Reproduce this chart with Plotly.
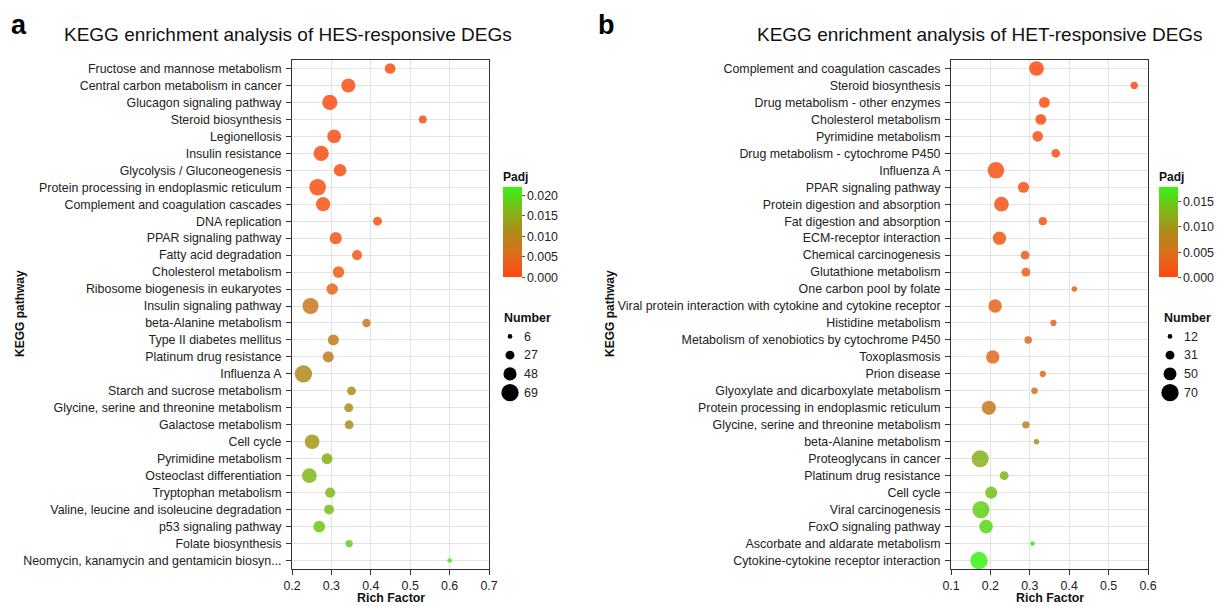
import plotly.graph_objects as go

# ---------------- Panel a: HES-responsive DEGs ----------------
a_pathways = [
    "Fructose and mannose metabolism", "Central carbon metabolism in cancer",
    "Glucagon signaling pathway", "Steroid biosynthesis", "Legionellosis",
    "Insulin resistance", "Glycolysis / Gluconeogenesis",
    "Protein processing in endoplasmic reticulum", "Complement and coagulation cascades",
    "DNA replication", "PPAR signaling pathway", "Fatty acid degradation",
    "Cholesterol metabolism", "Ribosome biogenesis in eukaryotes",
    "Insulin signaling pathway", "beta-Alanine metabolism", "Type II diabetes mellitus",
    "Platinum drug resistance", "Influenza A", "Starch and sucrose metabolism",
    "Glycine, serine and threonine metabolism", "Galactose metabolism", "Cell cycle",
    "Pyrimidine metabolism", "Osteoclast differentiation", "Tryptophan metabolism",
    "Valine, leucine and isoleucine degradation", "p53 signaling pathway",
    "Folate biosynthesis", "Neomycin, kanamycin and gentamicin biosyn...",
]
a_rich = [0.449, 0.343, 0.296, 0.532, 0.307, 0.274, 0.322, 0.265, 0.279, 0.417,
          0.311, 0.365, 0.318, 0.302, 0.247, 0.389, 0.305, 0.292, 0.229, 0.351,
          0.344, 0.345, 0.251, 0.289, 0.244, 0.297, 0.294, 0.269, 0.345, 0.600]
a_count = [36, 53, 59, 22, 51, 59, 45, 66, 54, 27,
           43, 33, 40, 40, 63, 24, 38, 38, 69, 27,
           27, 27, 56, 37, 56, 33, 32, 41, 19, 6]
a_padj = [0.0003, 0.0005, 0.0006, 0.0008, 0.0009, 0.0009, 0.0012, 0.0012, 0.0015, 0.0018,
          0.0022, 0.0025, 0.0030, 0.0045, 0.0075, 0.0078, 0.0085, 0.0088, 0.0105, 0.0112,
          0.0115, 0.0118, 0.0122, 0.0150, 0.0158, 0.0165, 0.0168, 0.0175, 0.0190, 0.0219]
a_size_breaks = [6, 27, 48, 69]
a_padj_ticks = [0.000, 0.005, 0.010, 0.015, 0.020]
a_x_ticks = [0.2, 0.3, 0.4, 0.5, 0.6, 0.7]

# ---------------- Panel b: HET-responsive DEGs ----------------
b_pathways = [
    "Complement and coagulation cascades", "Steroid biosynthesis",
    "Drug metabolism - other enzymes", "Cholesterol metabolism", "Pyrimidine metabolism",
    "Drug metabolism - cytochrome P450", "Influenza A", "PPAR signaling pathway",
    "Protein digestion and absorption", "Fat digestion and absorption",
    "ECM-receptor interaction", "Chemical carcinogenesis", "Glutathione metabolism",
    "One carbon pool by folate", "Viral protein interaction with cytokine and cytokine receptor",
    "Histidine metabolism", "Metabolism of xenobiotics by cytochrome P450", "Toxoplasmosis",
    "Prion disease", "Glyoxylate and dicarboxylate metabolism",
    "Protein processing in endoplasmic reticulum", "Glycine, serine and threonine metabolism",
    "beta-Alanine metabolism", "Proteoglycans in cancer", "Platinum drug resistance",
    "Cell cycle", "Viral carcinogenesis", "FoxO signaling pathway",
    "Ascorbate and aldarate metabolism", "Cytokine-cytokine receptor interaction",
]
b_rich = [0.317, 0.565, 0.337, 0.328, 0.320, 0.366, 0.214, 0.284, 0.228, 0.333,
          0.223, 0.288, 0.290, 0.413, 0.212, 0.360, 0.296, 0.206, 0.333, 0.312,
          0.196, 0.290, 0.317, 0.174, 0.235, 0.202, 0.176, 0.189, 0.307, 0.171]
b_count = [58, 24, 40, 40, 39, 30, 67, 42, 58, 28,
           52, 31, 31, 16, 52, 19, 25, 52, 19, 21,
           56, 24, 16, 69, 31, 46, 69, 53, 12, 70]
b_padj = [0.0001, 0.0002, 0.0004, 0.0005, 0.0006, 0.0008, 0.0009, 0.0012, 0.0013, 0.0015,
          0.0020, 0.0025, 0.0027, 0.0030, 0.0033, 0.0035, 0.0038, 0.0042, 0.0045, 0.0055,
          0.0062, 0.0080, 0.0095, 0.0125, 0.0130, 0.0140, 0.0150, 0.0160, 0.0170, 0.0178]
b_size_breaks = [12, 31, 50, 70]
b_padj_ticks = [0.000, 0.005, 0.010, 0.015]
b_x_ticks = [0.1, 0.2, 0.3, 0.4, 0.5, 0.6]

# ---------------- styling ----------------
W, H = 1222, 606
FONT = "Liberation Sans, Arial, sans-serif"
TICK_FS = 12.4
COLORSCALE = [[0.0, "#FF4A12"], [0.25, "#DC6C1C"], [0.5, "#AE8A1A"],
              [0.75, "#7DBA18"], [1.0, "#38F212"]]


def px_x(p):
    return p / W


def px_y(p):
    return 1 - p / H


def diam(counts, lo, hi):
    return [4.7 + 12.6 * (c - lo) / (hi - lo) for c in counts]


fig = go.Figure()

panels = [
    dict(path=a_pathways, rich=a_rich, cnt=a_count, padj=a_padj, breaks=a_size_breaks,
         cticks=a_padj_ticks, xticks=a_x_ticks, x0=292, x1=489, xr=[0.2, 0.7],
         cbx=503, legx=499, title="KEGG enrichment analysis of HES-responsive DEGs",
         tcx=287.5, letter="a", lx=19, ytx=18, cmax=0.0219),
    dict(path=b_pathways, rich=b_rich, cnt=b_count, padj=b_padj, breaks=b_size_breaks,
         cticks=b_padj_ticks, xticks=b_x_ticks, x0=951, x1=1148, xr=[0.1, 0.6],
         cbx=1159, legx=1159, title="KEGG enrichment analysis of HET-responsive DEGs",
         tcx=980, letter="b", lx=606, ytx=608, cmax=0.0178),
]

annotations = []
layout_axes = {}
for i, p in enumerate(panels):
    k = i + 1
    xa = "x" if k == 1 else f"x{k}"
    ya = "y" if k == 1 else f"y{k}"
    ca = "coloraxis" if k == 1 else f"coloraxis{k}"
    lo, hi = min(p["cnt"]), max(p["cnt"])
    fig.add_trace(go.Scatter(
        x=p["rich"], y=p["path"], mode="markers", xaxis=xa, yaxis=ya,
        marker=dict(size=diam(p["cnt"], lo, hi), color=p["padj"], coloraxis=ca,
                    opacity=0.85, line=dict(width=0)),
        showlegend=False, hoverinfo="x+y",
    ))
    axis_common = dict(showline=True, mirror=True, linecolor="#333333", linewidth=1,
                       ticks="outside", ticklen=5, tickcolor="#333333", automargin=False,
                       showgrid=True, gridcolor="#E3E3E3", gridwidth=1, zeroline=False,
                       tickfont=dict(family=FONT, size=TICK_FS, color="#222222"))
    layout_axes["xaxis" if k == 1 else f"xaxis{k}"] = dict(
        domain=[px_x(p["x0"]), px_x(p["x1"])], range=p["xr"], anchor=ya,
        tickvals=p["xticks"], tickformat=".1f", **axis_common)
    layout_axes["yaxis" if k == 1 else f"yaxis{k}"] = dict(
        domain=[px_y(569), px_y(60)], anchor=xa, type="category",
        categoryorder="array", categoryarray=p["path"], ticklabelstandoff=2,
        range=[len(p["path"]) - 0.5, -0.5], **axis_common)
    layout_axes[ca] = dict(
        cmin=0, cmax=p["cmax"], colorscale=COLORSCALE,
        colorbar=dict(
            x=px_x(p["cbx"]), xanchor="left", y=px_y(277.5), yanchor="bottom",
            lenmode="pixels", len=109, thickness=19, thicknessmode="pixels",
            outlinewidth=0, xpad=0, ypad=0, ticks="outside", ticklen=3,
            tickcolor="#555555", tickvals=p["cticks"], tickformat=".3f",
            tickfont=dict(family=FONT, size=TICK_FS, color="#222222"),
            title=dict(text="<b>Padj</b>", side="top",
                       font=dict(family=FONT, size=12, color="#111111")),
        ))

    # size legend drawn on its own small axes
    lk = k + 2
    fig.add_trace(go.Scatter(
        x=[0] * len(p["breaks"]), y=[str(b) for b in p["breaks"]], mode="markers",
        xaxis=f"x{lk}", yaxis=f"y{lk}",
        marker=dict(size=diam(p["breaks"], p["breaks"][0], p["breaks"][-1]),
                    color="#000000", opacity=1, line=dict(width=0)),
        showlegend=False, hoverinfo="skip",
    ))
    layout_axes[f"xaxis{lk}"] = dict(domain=[px_x(p["legx"]), px_x(p["legx"] + 22)],
                                     range=[-1, 1], visible=False, anchor=f"y{lk}",
                                     automargin=False)
    layout_axes[f"yaxis{lk}"] = dict(
        domain=[px_y(402), px_y(327)], anchor=f"x{lk}", type="category",
        categoryorder="array", categoryarray=[str(b) for b in p["breaks"]],
        range=[len(p["breaks"]) - 0.5, -0.5], side="right", showgrid=False,
        zeroline=False, showline=False, ticks="", ticklabelstandoff=2, automargin=False,
        tickfont=dict(family=FONT, size=TICK_FS, color="#222222"))
    annotations.append(dict(text="<b>Number</b>", x=px_x(p["legx"] + 3), y=px_y(318),
                            xref="paper", yref="paper", xanchor="left", yanchor="middle",
                            showarrow=False, font=dict(family=FONT, size=12.4, color="#111111")))

    annotations += [
        dict(text=p["title"], x=px_x(p["tcx"]), y=px_y(35), xref="paper", yref="paper",
             xanchor="center", yanchor="middle", showarrow=False,
             font=dict(family=FONT, size=19, color="#111111")),
        dict(text=f"<b>{p['letter']}</b>", x=px_x(p["lx"]), y=px_y(25), xref="paper",
             yref="paper", xanchor="center", yanchor="middle", showarrow=False,
             font=dict(family=FONT, size=27, color="#000000")),
        dict(text="<b>KEGG pathway</b>", x=px_x(p["ytx"] - 7), y=px_y(314), xref="paper",
             yref="paper", xanchor="left", yanchor="middle", textangle=-90,
             showarrow=False, font=dict(family=FONT, size=12, color="#111111")),
        dict(text="<b>Rich Factor</b>", x=px_x((p["x0"] + p["x1"]) / 2), y=px_y(598),
             xref="paper", yref="paper", xanchor="center", yanchor="middle",
             showarrow=False, font=dict(family=FONT, size=12.4, color="#111111")),
    ]

fig.update_layout(
    template="none",
    width=W, height=H, margin=dict(l=0, r=0, t=0, b=0, pad=0, autoexpand=False),
    paper_bgcolor="white", plot_bgcolor="white", showlegend=False,
    font=dict(family=FONT, size=12, color="#222222"),
    annotations=annotations, **layout_axes,
)

fig.write_html("out.html")
